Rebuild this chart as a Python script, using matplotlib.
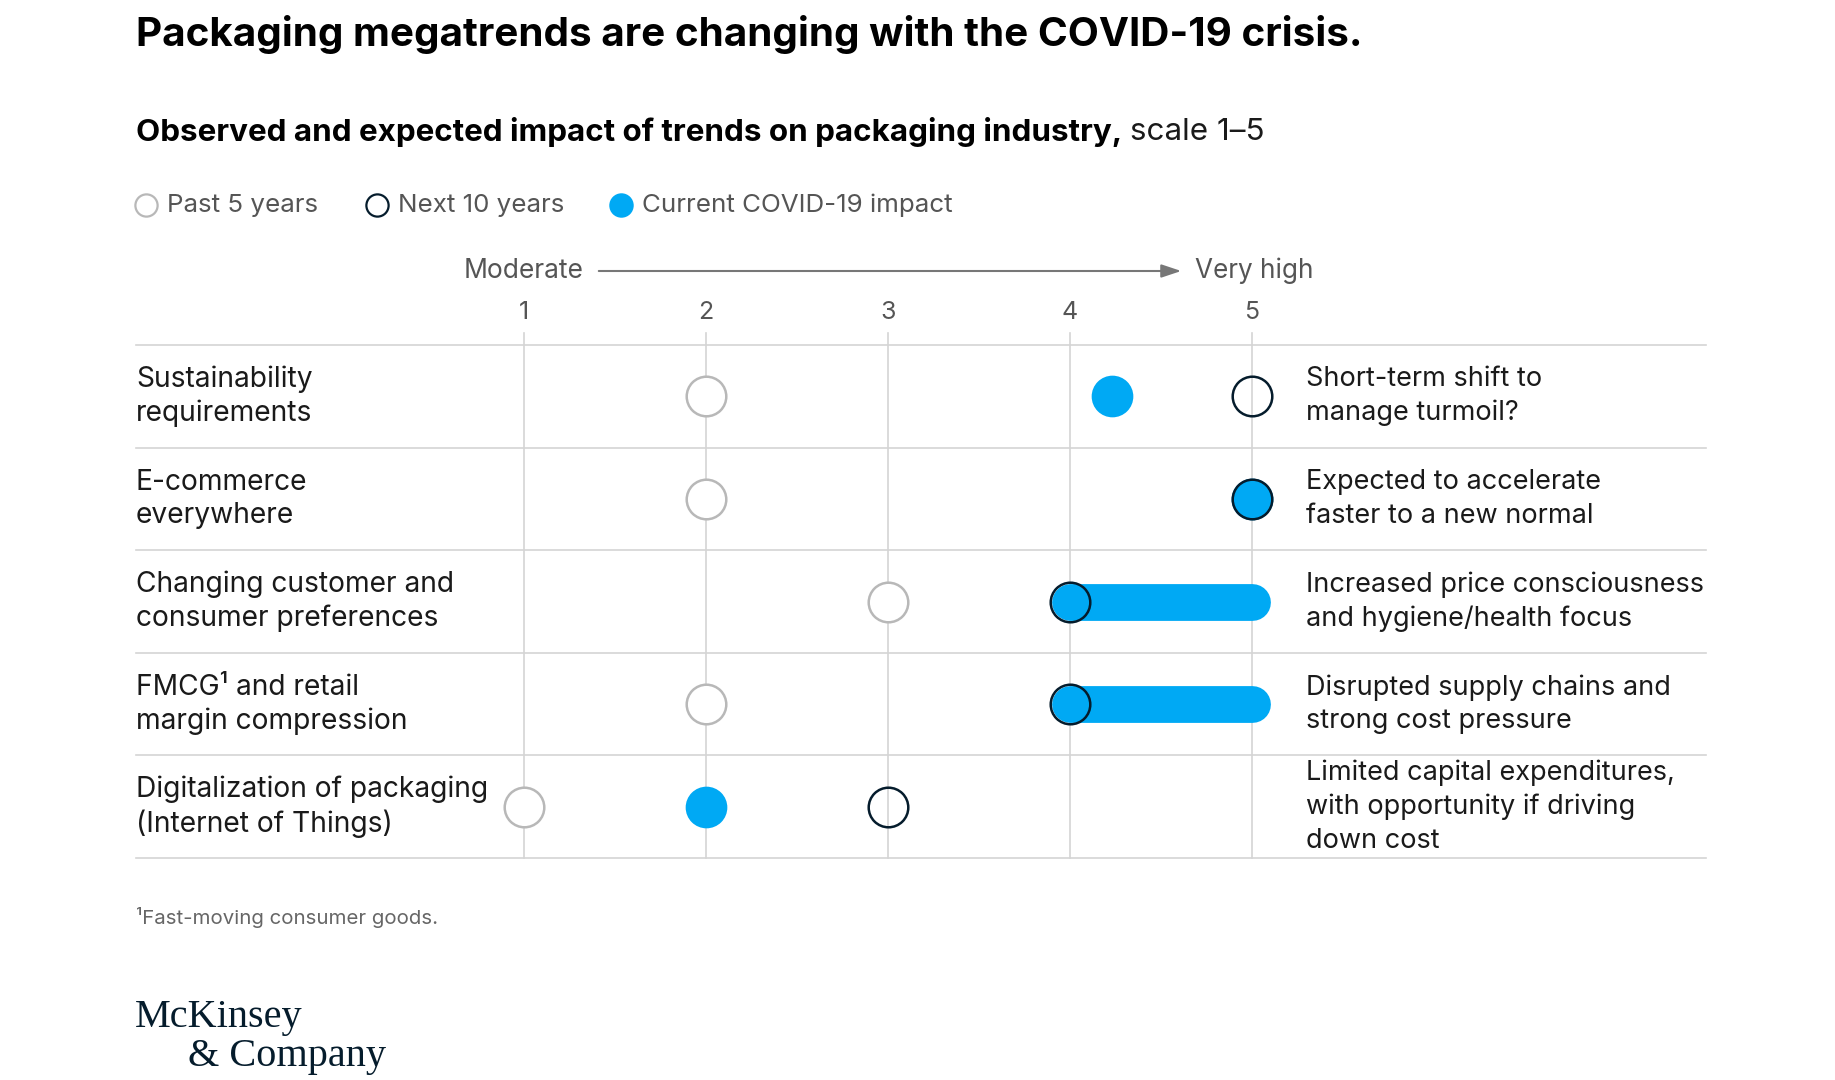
import matplotlib
matplotlib.use("Agg")
import matplotlib.pyplot as plt
import numpy as np

# ---------------- data ----------------
categories = [
    "Sustainability\nrequirements",
    "E-commerce\neverywhere",
    "Changing customer and\nconsumer preferences",
    "FMCG\u00b9 and retail\nmargin compression",
    "Digitalization of packaging\n(Internet of Things)",
]
past_5_years = [2, 2, 3, 2, 1]
next_10_years = [5, 5, 4, 4, 3]
covid_low = [4.23, 5, 4, 4, 2]
covid_high = [4.23, 5, 5, 5, 2]
comments = [
    "Short-term shift to\nmanage turmoil?",
    "Expected to accelerate\nfaster to a new normal",
    "Increased price consciousness\nand hygiene/health focus",
    "Disrupted supply chains and\nstrong cost pressure",
    "Limited capital expenditures,\nwith opportunity if driving\ndown cost",
]
scale_ticks = [1, 2, 3, 4, 5]
legend_labels = ["Past 5 years", "Next 10 years", "Current COVID-19 impact"]

# ---------------- style ----------------
FONT = "Inter"
BLUE = "#00A9F4"
NAVY = "#051C2C"
LGREY = "#B8B8B8"
GRID = "#D4D4D4"
TXT = "#1A1A1A"
GTXT = "#555555"

W, H = 1835, 1080
fig = plt.figure(figsize=(W / 100, H / 100), dpi=100)
fig.patch.set_facecolor("white")

def fx(px):
    return px / W

def fy(py):
    return 1 - py / H

# axes spanning the chart area
left_px, right_px, top_px, bot_px = 136, 1706, 345, 858
ax = fig.add_axes([fx(left_px), fy(bot_px), (right_px - left_px) / W, (bot_px - top_px) / H])
unit = 182.0
x0 = 1 + (left_px - 524) / unit
x1 = 1 + (right_px - 524) / unit
ax.set_xlim(x0, x1)
ax.set_ylim(5, 0)
ax.axis("off")

n = len(categories)
# horizontal row lines
for i in range(n + 1):
    ax.plot([x0, x1], [i, i], color=GRID, lw=1.2, zorder=1, clip_on=False)
# vertical grid lines
for t in scale_ticks:
    ax.plot([t, t], [-0.12, n], color=GRID, lw=1.2, zorder=1, clip_on=False)
    ax.text(t, -0.32, str(t), ha="center", va="center", fontsize=18,
            color=GTXT, family=FONT)

ms = 28.5
for i in range(n):
    yc = i + 0.5
    # covid bar / dot
    if covid_high[i] > covid_low[i]:
        ax.plot([covid_low[i], covid_high[i]], [yc, yc], color=BLUE, lw=26.5,
                solid_capstyle="round", zorder=2)
    else:
        ax.plot([covid_low[i]], [yc], marker="o", ms=ms, mfc=BLUE, mec=BLUE,
                mew=1.5, ls="none", zorder=3)
    # past 5 years
    ax.plot([past_5_years[i]], [yc], marker="o", ms=ms, mfc="white", mec=LGREY,
            mew=1.8, ls="none", zorder=4)
    # next 10 years
    ax.plot([next_10_years[i]], [yc], marker="o", ms=ms, mfc="none", mec=NAVY,
            mew=1.8, ls="none", zorder=5)
    # labels
    ax.text(x0, yc, categories[i], ha="left", va="center", fontsize=20.3,
            color=TXT, family=FONT, linespacing=1.31)
    ax.text(1 + (1306 - 524) / unit, yc, comments[i], ha="left", va="center",
            fontsize=19.5, color=TXT, family=FONT, linespacing=1.37)

# ---------------- headings ----------------
fig.text(fx(136), fy(34), "Packaging megatrends are changing with the COVID-19 crisis.",
         ha="left", va="center", fontsize=29.1, fontweight="bold", color="black",
         family=FONT)
t1 = fig.text(fx(136), fy(132), "Observed and expected impact of trends on packaging industry,",
              ha="left", va="center", fontsize=22.6, fontweight="bold", color="black",
              family=FONT)
fig.canvas.draw()
bb = t1.get_window_extent()
fig.text(bb.x1 / W + fx(8), fy(132), "scale 1\u20135", ha="left", va="center",
         fontsize=22.6, color=TXT, family=FONT)

# ---------------- legend ----------------
ly = fy(205)
leg_items = [
    (146, 167, dict(mfc="white", mec=LGREY)),
    (377, 398, dict(mfc="white", mec=NAVY)),
    (621, 642, dict(mfc=BLUE, mec=BLUE)),
]
for (cx, tx, st), lab in zip(leg_items, legend_labels):
    fig.lines.append(matplotlib.lines.Line2D([fx(cx)], [ly], marker="o", ms=16,
                                             mew=1.6, ls="none",
                                             transform=fig.transFigure, **st))
    fig.text(fx(tx), ly, lab, ha="left", va="center", fontsize=18.7, color=GTXT,
             family=FONT)

# ---------------- scale arrow ----------------
ay = fy(271)
fig.text(fx(583), ay, "Moderate", ha="right", va="center", fontsize=19,
         color=GTXT, family=FONT)
fig.text(fx(1195), ay, "Very high", ha="left", va="center", fontsize=18.8,
         color=GTXT, family=FONT)
fig.patches.append(matplotlib.patches.FancyArrowPatch(
    (fx(596), ay), (fx(1184), ay), transform=fig.transFigure,
    arrowstyle="-|>,head_length=12,head_width=4", color="#777777", lw=1.5,
    mutation_scale=1))

# ---------------- footnote & logo ----------------
fig.text(fx(136), fy(918), "\u00b9Fast-moving consumer goods.", ha="left",
         va="center", fontsize=14.7, color="#666666", family=FONT)
fig.text(fx(135), fy(1027), "McKinsey", ha="left", va="baseline", fontsize=29,
         color=NAVY, family="Liberation Serif")
fig.text(fx(188), fy(1066), "& Company", ha="left", va="baseline", fontsize=29,
         color=NAVY, family="Liberation Serif")

fig.savefig("out.png", dpi=100, facecolor="white")
